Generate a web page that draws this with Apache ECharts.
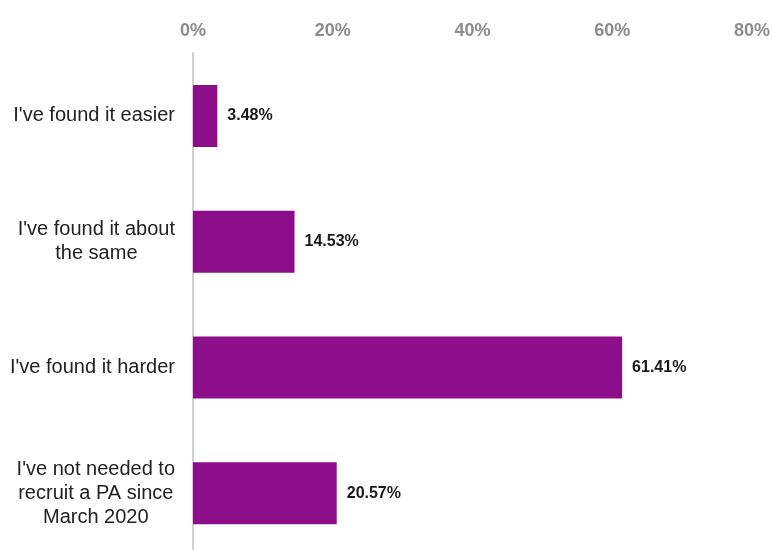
<!DOCTYPE html>
<html>
<head>
<meta charset="utf-8">
<script src="https://cdn.jsdelivr.net/npm/echarts@6/dist/echarts.min.js"></script>
<style>
  html, body { margin: 0; padding: 0; background: #ffffff; }
  #chart { width: 772px; height: 550px; }
</style>
</head>
<body>
<div id="chart"></div>
<script>
// Responses: change in difficulty recruiting a PA
const categories = [
  "I've found it easier",
  "I've found it about\nthe same",
  "I've found it harder",
  "I've not needed to\nrecruit a PA since\nMarch 2020"
];
const shares = [3.48, 14.53, 61.41, 20.57];
const axisMax = 80;
const axisStep = 20;

const labelFont = 'Liberation Sans, Arial, sans-serif';

const chart = echarts.init(document.getElementById('chart'), null, { renderer: 'canvas' });

chart.setOption({
  animation: false,
  backgroundColor: '#ffffff',
  grid: {
    left: 193, right: 20, top: 53, height: 503,
    containLabel: false,
    outerBoundsMode: 'none'
  },
  xAxis: {
    type: 'value',
    position: 'top',
    min: 0,
    max: axisMax,
    interval: axisStep,
    axisLine: { show: false },
    axisTick: { show: false },
    splitLine: { show: false },
    axisLabel: {
      formatter: '{value}%',
      color: '#8c8c8c',
      fontFamily: labelFont,
      fontWeight: 'bold',
      fontSize: 18,
      margin: 13
    }
  },
  yAxis: {
    type: 'category',
    inverse: true,
    data: categories,
    axisLine: { show: true, lineStyle: { color: '#d0d0d0', width: 2 } },
    axisTick: { show: false },
    axisLabel: {
      align: 'right',
      margin: 18,
      // each line centred within the label block, block right-aligned to the axis
      formatter: v => v.split('\n').map(line => '{c|' + line + '}').join('\n'),
      rich: {
        c: {
          align: 'center',
          color: '#222222',
          fontFamily: labelFont,
          fontSize: 20,
          lineHeight: 24
        }
      }
    }
  },
  series: [{
    type: 'bar',
    data: shares,
    barWidth: 62,
    itemStyle: { color: '#8c0e8b' },
    label: {
      show: true,
      position: 'right',
      distance: 10,
      formatter: p => p.value.toFixed(2) + '%',
      color: '#1a1a1a',
      fontFamily: labelFont,
      fontWeight: 'bold',
      fontSize: 16
    }
  }]
});
</script>
</body>
</html>
